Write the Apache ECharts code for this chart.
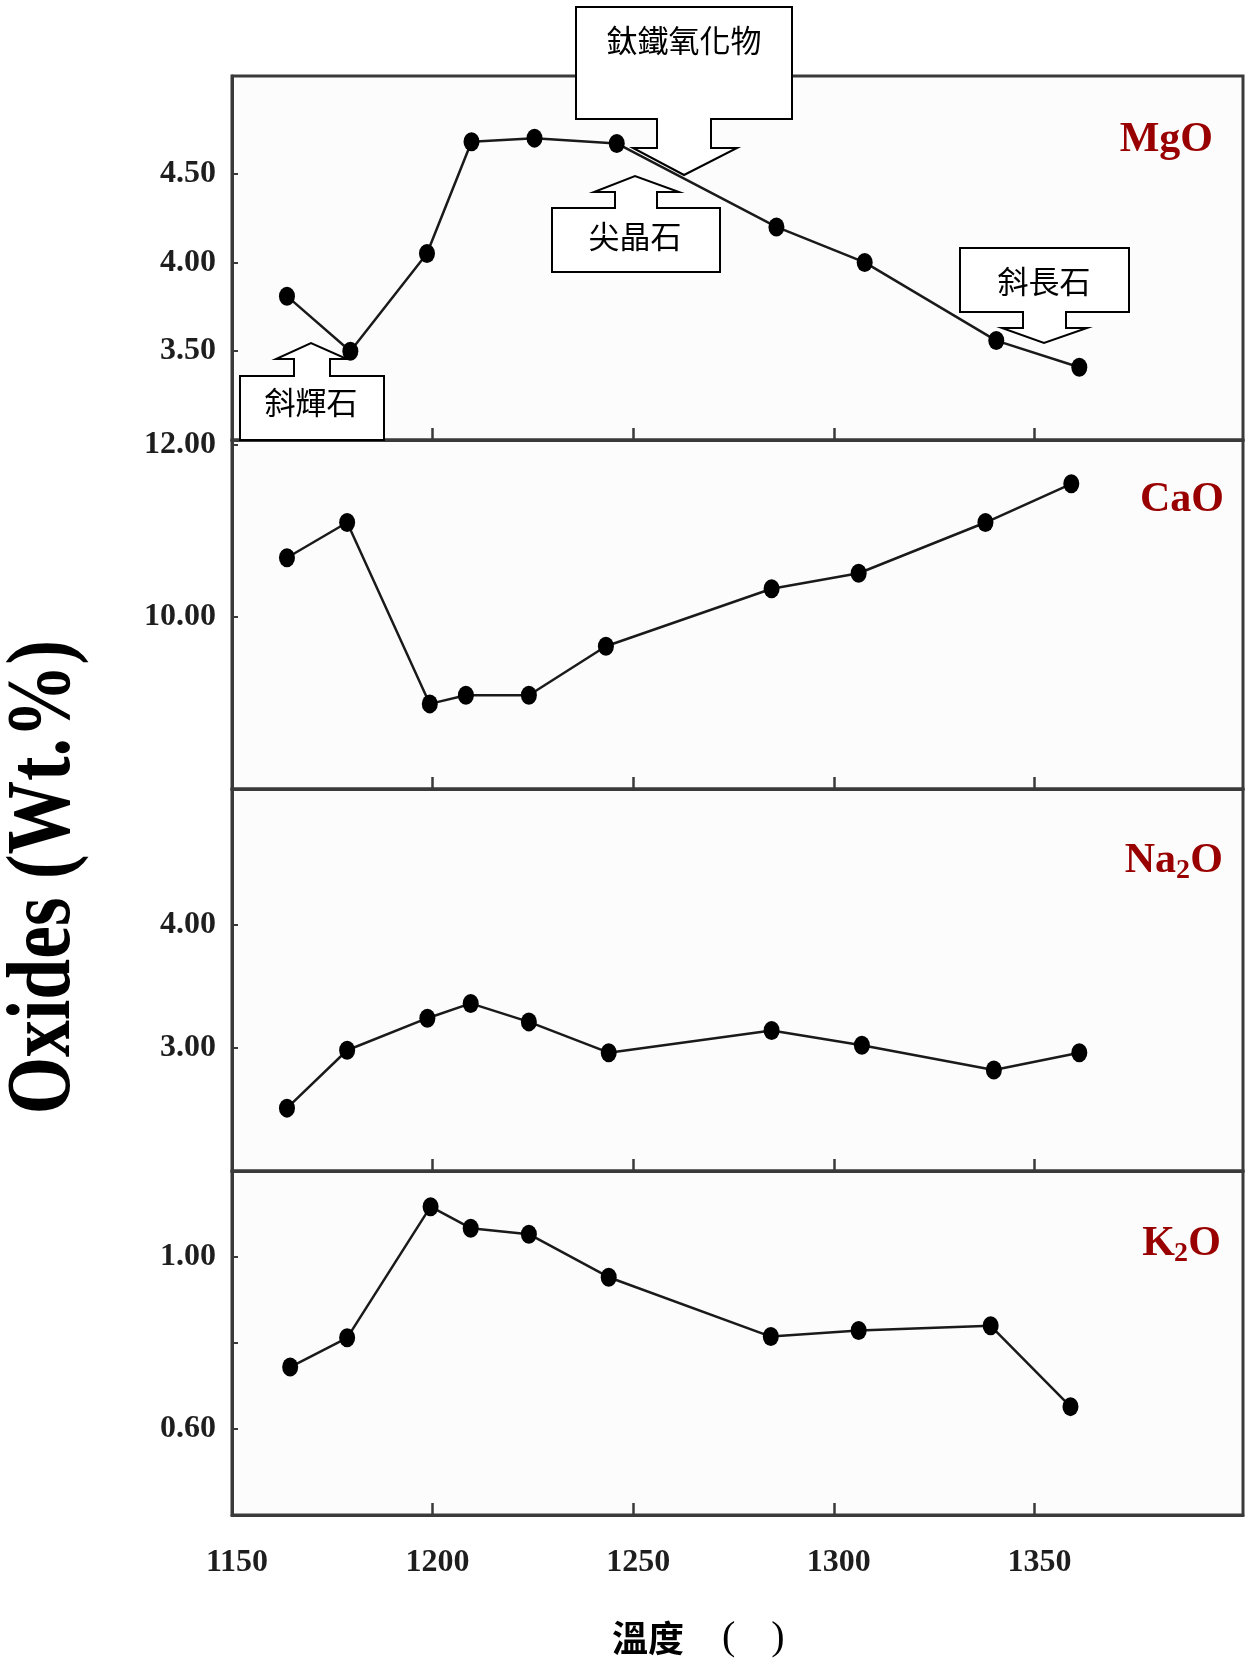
<!DOCTYPE html>
<html>
<head>
<meta charset="utf-8">
<title>Oxides vs temperature</title>
<script src="https://cdn.jsdelivr.net/npm/echarts@6/dist/echarts.min.js"></script>
<style>
  html, body { margin: 0; padding: 0; background: #ffffff; }
  #chart { width: 1245px; height: 1661px; }
</style>
</head>
<body>
<div id="chart"></div>
<script>
// ---- data -------------------------------------------------------------
// temperature tick labels (°C), shared by every panel
const tempTicks = ['1150', '1200', '1250', '1300', '1350'];

// MgO (wt.%)
const mgoTemp = [1163.7, 1179.5, 1198.6, 1209.7, 1225.4, 1245.9, 1285.7, 1307.7, 1340.5, 1361.2];
const mgoWt   = [3.81, 3.50, 4.05, 4.68, 4.70, 4.67, 4.20, 4.00, 3.56, 3.41];
const mgoTicks = ['3.50', '4.00', '4.50'];

// CaO (wt.%)
const caoTemp = [1163.7, 1178.7, 1199.3, 1208.3, 1224.0, 1243.2, 1284.5, 1306.2, 1337.8, 1359.2];
const caoWt   = [10.69, 11.10, 8.99, 9.09, 9.09, 9.66, 10.33, 10.51, 11.10, 11.55];
const caoTicks = ['10.00', '12.00'];

// Na2O (wt.%)
const na2oTemp = [1163.7, 1178.7, 1198.7, 1209.5, 1224.0, 1243.9, 1284.5, 1307.0, 1339.9, 1361.2];
const na2oWt   = [2.51, 2.98, 3.24, 3.36, 3.21, 2.96, 3.14, 3.02, 2.82, 2.96];
const na2oTicks = ['3.00', '4.00'];

// K2O (wt.%)
const k2oTemp = [1164.5, 1178.7, 1199.5, 1209.5, 1224.0, 1243.9, 1284.3, 1306.2, 1339.1, 1359.0];
const k2oWt   = [0.744, 0.812, 1.117, 1.067, 1.053, 0.953, 0.815, 0.829, 0.840, 0.652];
const k2oTicks = ['0.60', '1.00'];
const k2oMinorTicks = ['0.80'];

// mineral-phase callouts
const calloutNames = ['鈦鐵氧化物', '尖晶石', '斜輝石', '斜長石'];

// ---- layout -----------------------------------------------------------
const plotLeft = 232;
const plotRight = 2;
const panels = [
  { top: 76,   height: 364, min: 3,   max: 5.05,  interval: 0.5, temp: mgoTemp,  wt: mgoWt,  labels: mgoTicks,  ticks: mgoTicks },
  { top: 440,  height: 349, min: 8,   max: 12.06, interval: 2,   temp: caoTemp,  wt: caoWt,  labels: caoTicks,  ticks: caoTicks },
  { top: 789,  height: 382, min: 2,   max: 5.1,   interval: 1,   temp: na2oTemp, wt: na2oWt, labels: na2oTicks, ticks: na2oTicks },
  { top: 1171, height: 344, min: 0.4, max: 1.2,   interval: 0.2, temp: k2oTemp,  wt: k2oWt,  labels: k2oTicks,  ticks: k2oTicks.concat(k2oMinorTicks) }
];

const frameColor = '#3a3a3a';
const serif = '"Liberation Serif", "Times New Roman", serif';
const cjk = '"Noto Sans CJK TC", "Noto Sans CJK SC", sans-serif';
const oxideRed = '#990000';

const tickNums = tempTicks.map(Number);

const grids = panels.map(p => ({
  left: plotLeft, right: plotRight, top: p.top, height: p.height,
  show: true, backgroundColor: '#fcfcfc',
  borderColor: frameColor, borderWidth: 3
}));

const xAxes = panels.map((p, i) => ({
  type: 'value', gridIndex: i,
  min: 1150, max: 1402, interval: 50,
  splitLine: { show: false },
  axisLine: { show: true, lineStyle: { color: frameColor, width: 3 } },
  axisTick: {
    show: true, inside: true, length: 12,
    customValues: tickNums.slice(1),
    lineStyle: { color: frameColor, width: 2.5 }
  },
  axisLabel: {
    show: i === panels.length - 1,
    customValues: tickNums,
    formatter: v => String(v),
    fontFamily: serif, fontWeight: 'bold', fontSize: 32, color: '#1e1e1e',
    margin: 32, padding: [0, 0, 0, 10]
  }
}));

const yAxes = panels.map((p, i) => ({
  type: 'value', gridIndex: i,
  min: p.min, max: p.max, interval: p.interval,
  splitLine: { show: false },
  axisLine: { show: true, lineStyle: { color: frameColor, width: 3 } },
  axisTick: {
    show: true, inside: true, length: 6,
    customValues: p.ticks.map(Number),
    lineStyle: { color: frameColor, width: 2 }
  },
  axisLabel: {
    customValues: p.labels.map(Number),
    formatter: v => v.toFixed(2),
    fontFamily: serif, fontWeight: 'bold', fontSize: 32, color: '#1e1e1e',
    margin: 16
  }
}));

const series = panels.map((p, i) => ({
  type: 'line', xAxisIndex: i, yAxisIndex: i,
  data: p.temp.map((t, j) => [t, p.wt[j]]),
  symbol: 'circle', symbolSize: [16, 19],
  itemStyle: { color: '#000' },
  lineStyle: { color: '#1a1a1a', width: 2.5 },
  z: 3
}));

// oxide names in the upper-right of each panel; subscripts are set as
// separate smaller pieces dropped below the baseline
function oxidePiece(text, right, cy, size) {
  return {
    type: 'text', x: right, y: cy, z: 50,
    style: {
      text: text, fontFamily: serif, fontWeight: 'bold', fontSize: size,
      fill: oxideRed, align: 'right', verticalAlign: 'middle'
    }
  };
}
const oxideLabels = [
  oxidePiece('MgO', 1213, 140, 42),
  oxidePiece('CaO', 1224, 500, 42),
  // Na2O
  oxidePiece('O', 1223, 861, 42),
  oxidePiece('2', 1190, 871, 28),
  oxidePiece('Na', 1176, 861, 42),
  // K2O
  oxidePiece('O', 1221, 1244, 42),
  oxidePiece('2', 1188, 1254, 28),
  oxidePiece('K', 1175, 1244, 42)
];

// block-arrow callout outlines (box + arrow)
const calloutShapes = [
  [[576, 7], [792, 7], [792, 119], [711, 119], [711, 148], [737, 148], [684, 175],
   [633, 148], [657, 148], [657, 119], [576, 119]],
  [[552, 208], [615, 208], [615, 192], [594, 192], [635, 176], [679, 192],
   [657, 192], [657, 208], [720, 208], [720, 272], [552, 272]],
  [[240, 376], [294, 376], [294, 359], [276, 359], [311, 343], [347, 359],
   [330, 359], [330, 376], [384, 376], [384, 440], [240, 440]],
  [[960, 248], [1129, 248], [1129, 312], [1066, 312], [1066, 328], [1087, 328],
   [1044, 343], [1002, 328], [1023, 328], [1023, 312], [960, 312]]
];
const calloutTextPos = [[684, 40], [635, 236], [311, 402], [1044, 281]];

const callouts = [];
calloutShapes.forEach((pts, i) => {
  callouts.push({
    type: 'polygon', z: 100,
    shape: { points: pts },
    style: { fill: '#ffffff', stroke: '#000000', lineWidth: 2, lineJoin: 'miter' }
  });
  callouts.push({
    type: 'text', z: 101,
    x: calloutTextPos[i][0], y: calloutTextPos[i][1],
    style: {
      text: calloutNames[i], fontFamily: cjk, fontSize: 31, fill: '#000',
      align: 'center', verticalAlign: 'middle'
    }
  });
});

const titles = [
  {
    type: 'text', x: 45, y: 877, rotation: Math.PI / 2, scaleX: 0.8, z: 50,
    style: {
      text: 'Oxides (Wt.%)', fontFamily: serif, fontWeight: 'bold', fontSize: 92,
      fill: '#000', align: 'center', verticalAlign: 'middle'
    }
  },
  {
    type: 'text', x: 612, y: 1638, z: 50,
    style: {
      text: '{a|溫度}{g| }{p|(}{m| }{p|)}',
      align: 'left', verticalAlign: 'middle',
      rich: {
        a: { fontFamily: cjk, fontWeight: 'bold', fontSize: 36, fill: '#000', color: '#000' },
        g: { width: 38, fontSize: 36 },
        p: { fontFamily: serif, fontSize: 40, fill: '#000', color: '#000' },
        m: { width: 36, fontSize: 36 }
      }
    }
  }
];

const chart = echarts.init(document.getElementById('chart'), null, { renderer: 'canvas' });
chart.setOption({
  animation: false,
  backgroundColor: '#ffffff',
  grid: grids,
  xAxis: xAxes,
  yAxis: yAxes,
  series: series,
  graphic: { elements: titles.concat(oxideLabels, callouts) }
});
</script>
</body>
</html>
